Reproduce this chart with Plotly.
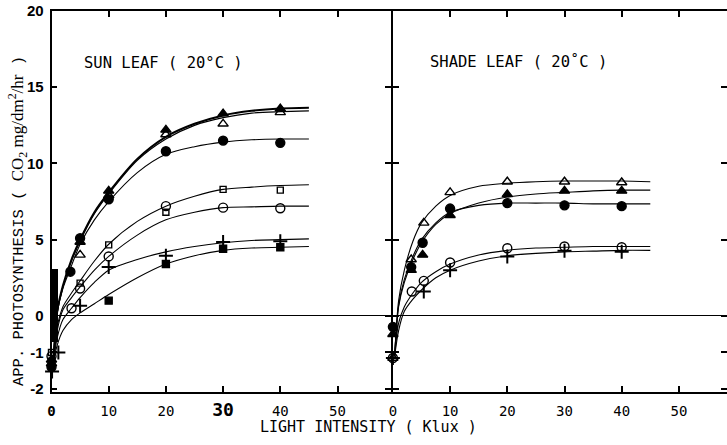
import plotly.graph_objects as go

W, H = 727, 445
NEG = 2.4  # negative part of the y scale is stretched in the original


def ty(vals):
    return [v if v >= 0 else v * NEG for v in vals]


# ---------------- SUN LEAF (left panel) : measured points ----------------
sun_tri_f_x = [0, 5, 10, 20, 30, 40]
sun_tri_f_y = [-1.2, 4.85, 8.2, 12.2, 13.27, 13.6]
sun_tri_o_x = [0, 5, 10, 20, 30, 40]
sun_tri_o_y = [-1.3, 4.0, 7.9, 11.9, 12.6, 13.35]
sun_circ_f_x = [0, 3.3, 5, 10, 20, 30, 40]
sun_circ_f_y = [-1.4, 2.9, 5.1, 7.65, 10.8, 11.5, 11.35]
sun_sq_o_x = [0, 5, 10, 20, 30, 40]
sun_sq_o_y = [-1.0, 2.15, 4.66, 6.8, 8.3, 8.25]
sun_circ_o_x = [0, 3.5, 5, 10, 20, 30, 40]
sun_circ_o_y = [-1.1, 0.5, 1.8, 3.9, 7.2, 7.1, 7.06]
sun_plus_x = [0.1, 1.2, 5, 10, 20, 30, 40]
sun_plus_y = [-1.52, -1.0, 0.67, 3.2, 3.95, 4.85, 4.9]
sun_sq_f_x = [0, 10, 20, 30, 40]
sun_sq_f_y = [-1.25, 1.0, 3.4, 4.4, 4.5]

# dark smudge along the axis near the origin (left panel)
sun_band_x = [0.5]
sun_band_lo = [-0.7]
sun_band_hi = [3.05]

# ---------------- SUN LEAF : fitted curves ----------------
curve_x = [0.3, 1, 2, 3.5, 5, 7.5, 10, 15, 20, 25, 30, 35, 40, 45]
sun_curve_tri_f = [-1.3, 0.3, 2.0, 3.7, 5.0, 6.8, 8.1, 10.3, 11.75, 12.6, 13.15, 13.45, 13.6, 13.65]
sun_curve_tri_o = [-1.3, 0.2, 1.9, 3.6, 4.9, 6.7, 8.0, 10.2, 11.6, 12.5, 13.0, 13.3, 13.4, 13.45]
sun_curve_circ_f = [-1.3, 0.2, 1.8, 3.3, 4.7, 6.3, 7.5, 9.4, 10.6, 11.1, 11.4, 11.55, 11.6, 11.6]
sun_curve_sq_o = [-1.3, -0.3, 0.6, 1.5, 2.3, 3.6, 4.7, 6.2, 7.2, 7.85, 8.3, 8.45, 8.55, 8.6]
sun_curve_circ_o = [-1.3, -0.4, 0.4, 1.2, 1.9, 3.0, 3.9, 5.3, 6.3, 6.8, 7.1, 7.15, 7.2, 7.2]
sun_curve_plus = [-1.3, -0.6, -0.1, 0.5, 1.2, 2.2, 3.0, 3.7, 4.2, 4.55, 4.8, 4.95, 5.0, 5.05]
sun_curve_sq_f = [-1.3, -0.8, -0.4, -0.1, 0.2, 0.8, 1.4, 2.5, 3.4, 3.95, 4.3, 4.45, 4.5, 4.55]

# ---------------- SHADE LEAF (right panel) : measured points ----------------
sh_tri_o_x = [0, 3.2, 5.4, 10, 20, 30, 40]
sh_tri_o_y = [-1.15, 3.7, 6.1, 8.1, 8.8, 8.8, 8.75]
sh_tri_f_x = [0, 3.2, 5.2, 10, 20, 30, 40]
sh_tri_f_y = [-0.5, 3.0, 4.0, 6.6, 7.97, 8.2, 8.2]
sh_circ_f_x = [0, 3.2, 5.2, 10, 20, 30, 40]
sh_circ_f_y = [-0.3, 3.2, 4.8, 7.04, 7.4, 7.25, 7.2]
sh_circ_o_x = [0, 3.3, 5.4, 10, 20, 30, 40]
sh_circ_o_y = [-1.15, 1.6, 2.3, 3.5, 4.44, 4.55, 4.5]
sh_plus_x = [0, 5.4, 10, 20, 30, 40]
sh_plus_y = [-1.15, 1.6, 3.0, 3.9, 4.27, 4.2]

# ---------------- SHADE LEAF : fitted curves ----------------
sh_curve_tri_o = [-1.1, 1.0, 3.0, 4.9, 6.1, 7.2, 7.9, 8.5, 8.7, 8.8, 8.85, 8.85, 8.85, 8.8]
sh_curve_tri_f = [-1.1, 0.6, 2.2, 3.7, 4.8, 6.0, 6.7, 7.4, 7.8, 8.0, 8.1, 8.2, 8.25, 8.25]
sh_curve_circ_f = [-1.1, 0.7, 2.4, 3.9, 5.0, 6.1, 6.8, 7.25, 7.4, 7.4, 7.4, 7.35, 7.35, 7.35]
sh_curve_circ_o = [-1.1, -0.2, 0.6, 1.5, 2.2, 2.9, 3.4, 4.0, 4.3, 4.45, 4.5, 4.55, 4.55, 4.55]
sh_curve_plus = [-1.1, -0.4, 0.3, 1.1, 1.7, 2.5, 3.0, 3.6, 3.95, 4.1, 4.2, 4.25, 4.3, 4.3]

# ---------------- axes / tick labels ----------------
x_ticks = [0, 10, 20, 30, 40, 50]
x_tick_text_left = ["<b>0</b>", "10", "20", "<span style='font-size:18px'><b>30</b></span>", "40", "50"]
x_tick_text_right = ["0", "10", "20", "30", "40", "50"]
y_ticks = [20, 15, 10, 5, 0, -1, -2]
y_tick_text = ["20", "15", "10", "5", "0", "-1", "-2"]

fig = go.Figure()


def add_curve(x, y, xa, ya, width=1.1):
    fig.add_trace(go.Scatter(x=x, y=ty(y), mode="lines", line=dict(color="black", width=width, shape="spline", smoothing=0.8),
                             xaxis=xa, yaxis=ya, hoverinfo="skip", showlegend=False))


def add_pts(x, y, sym, size, xa, ya, lw=1.4):
    fig.add_trace(go.Scatter(x=x, y=ty(y), mode="markers", cliponaxis=False,
                             marker=dict(symbol=sym, size=size, color="black", line=dict(color="black", width=lw)),
                             xaxis=xa, yaxis=ya, hoverinfo="skip", showlegend=False))


# left panel
fig.add_trace(go.Bar(x=sun_band_x, base=ty(sun_band_lo), y=[h - l for h, l in zip(sun_band_hi, ty(sun_band_lo))], width=1.0,
                     marker=dict(color="black", line=dict(width=0)), xaxis="x", yaxis="y", hoverinfo="skip", showlegend=False))
add_curve(curve_x, sun_curve_tri_f, "x", "y", 2.0)
add_curve(curve_x, sun_curve_tri_o, "x", "y", 1.2)
add_curve(curve_x, sun_curve_circ_f, "x", "y")
add_curve(curve_x, sun_curve_sq_o, "x", "y")
add_curve(curve_x, sun_curve_circ_o, "x", "y")
add_curve(curve_x, sun_curve_plus, "x", "y")
add_curve(curve_x, sun_curve_sq_f, "x", "y")
add_pts(sun_tri_f_x, sun_tri_f_y, "triangle-up", 9, "x", "y")
add_pts(sun_tri_o_x, sun_tri_o_y, "triangle-up-open", 9, "x", "y")
add_pts(sun_circ_f_x, sun_circ_f_y, "circle", 9, "x", "y")
add_pts(sun_sq_o_x, sun_sq_o_y, "square-open", 6, "x", "y")
add_pts(sun_circ_o_x, sun_circ_o_y, "circle-open", 9, "x", "y")
add_pts(sun_plus_x, sun_plus_y, "cross-thin", 10, "x", "y", 2)
add_pts(sun_sq_f_x, sun_sq_f_y, "square", 7, "x", "y")

# right panel
add_curve(curve_x, sh_curve_tri_o, "x2", "y2")
add_curve(curve_x, sh_curve_tri_f, "x2", "y2")
add_curve(curve_x, sh_curve_circ_f, "x2", "y2")
add_curve(curve_x, sh_curve_circ_o, "x2", "y2")
add_curve(curve_x, sh_curve_plus, "x2", "y2")
add_pts(sh_tri_o_x, sh_tri_o_y, "triangle-up-open", 9, "x2", "y2")
add_pts(sh_tri_f_x, sh_tri_f_y, "triangle-up", 9, "x2", "y2")
add_pts(sh_circ_f_x, sh_circ_f_y, "circle", 9, "x2", "y2")
add_pts(sh_circ_o_x, sh_circ_o_y, "circle-open", 9, "x2", "y2")
add_pts(sh_plus_x, sh_plus_y, "cross-thin", 10, "x2", "y2", 2)

LW = 1.8
x_l0, x_div = 51.5, 392.0
px_per_unit = 5.72
y_top, y_bot = 11, 392
left_end = x_div - LW / 2
right_start = x_div + LW / 2

xfont = dict(family="DejaVu Sans Mono", size=14, color="black")
yfont = dict(family="Liberation Sans", size=15, color="black", weight="bold")

common_x = dict(tickvals=x_ticks, ticks="inside", ticklen=6, tickwidth=1.5, tickcolor="black",
                showline=True, linecolor="black", linewidth=LW, mirror="ticks", automargin=False,
                showgrid=False, zeroline=False, tickfont=xfont, ticklabelstandoff=5)
common_y = dict(domain=[1 - y_bot / H, 1 - y_top / H], range=[-2.08 * NEG, 20], automargin=False,
                tickvals=ty(y_ticks), ticktext=y_tick_text, ticks="inside", ticklen=6, tickwidth=1.5,
                tickcolor="black", showline=True, linecolor="black", linewidth=LW, mirror="ticks",
                showgrid=False, zeroline=True, zerolinecolor="black", zerolinewidth=1.2)

fig.update_layout(
    width=W, height=H, margin=dict(l=0, r=0, t=0, b=0, autoexpand=False),
    plot_bgcolor="white", paper_bgcolor="white", showlegend=False, bargap=0,
    xaxis=dict(domain=[x_l0 / W, left_end / W], range=[0, (left_end - x_l0) / px_per_unit], anchor="y",
               ticktext=x_tick_text_left, **common_x),
    yaxis=dict(anchor="x", tickfont=yfont, ticklabelstandoff=3, **common_y),
    xaxis2=dict(domain=[right_start / W, 1], range=[0, (W - right_start) / px_per_unit], anchor="y2",
                ticktext=x_tick_text_right, **common_x),
    yaxis2=dict(anchor="x2", showticklabels=False, **common_y),
)

ann = []
ann.append(dict(text="SUN LEAF ( 20°C )", x=82 / W, y=1 - 63 / H, xref="paper", yref="paper",
                xanchor="left", yanchor="middle", showarrow=False,
                font=dict(family="DejaVu Sans Mono", size=15.5, color="black")))
ann.append(dict(text="SHADE LEAF ( 20˚C )", x=428 / W, y=1 - 62 / H, xref="paper", yref="paper",
                xanchor="left", yanchor="middle", showarrow=False,
                font=dict(family="DejaVu Sans Mono", size=15.5, color="black")))
ann.append(dict(text="LIGHT INTENSITY ( Klux )", x=368 / W, y=1 - 427 / H, xref="paper", yref="paper",
                xanchor="center", yanchor="middle", showarrow=False,
                font=dict(family="DejaVu Sans Mono", size=15, color="black")))
ann.append(dict(text="APP. PHOTOSYNTHESIS ( <span style='font-family:Liberation Serif;font-size:17px'>CO<sub>2</sub> mg/dm<sup>2</sup>/hr</span> )",
                x=17 / W, y=1 - 221 / H, xref="paper", yref="paper", textangle=-90,
                xanchor="center", yanchor="middle", showarrow=False,
                font=dict(family="Liberation Mono", size=15.5, color="black")))
fig.update_layout(annotations=ann)

fig.write_html("out.html")
